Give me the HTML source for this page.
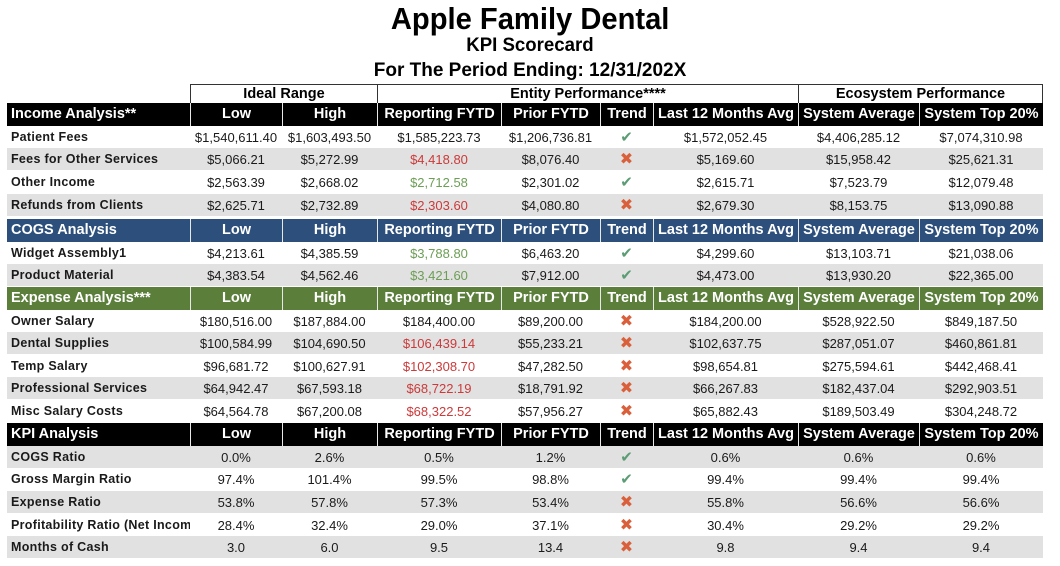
<!DOCTYPE html>
<html><head><meta charset="utf-8"><style>
*{margin:0;padding:0;box-sizing:border-box}
body{width:1060px;height:566px;background:#fff;position:relative;overflow:hidden;font-family:"Liberation Sans",Arial,sans-serif;color:#1a1a1a}
.t{position:absolute;left:0;width:1060px;text-align:center;font-weight:bold;color:#000}
.t span{display:inline-block;transform-origin:center}
.r{position:absolute;left:7px;width:1036px;display:grid;grid-template-columns:183px 92px 95px 124px 99px 53px 145px 121px 124px;align-items:center}
.r>div{text-align:center;white-space:nowrap;overflow:hidden}
.d{height:22px;font-size:13px}
.d>div:first-child{text-align:left;padding-left:4px;font-weight:bold;font-size:12.5px;letter-spacing:0.3px}
.g{background:#e1e1e1}
.h{height:23px;color:#fff;font-weight:bold;font-size:14.5px}
.h>div{height:100%;line-height:23px;border-left:1.5px solid #e8e8e8}
.h>div:first-child{text-align:left;padding-left:4px;border-left:none}
.bk{background:#000}.bl{background:#2d4f7c}.gr{background:#5b7f3b}
.red{color:#cc3a3a}.grn{color:#6d9e55}
.ck{color:#5c9c74;font-size:15px}
.x{color:#d9603b;font-size:16px}
.grp{position:absolute;top:84px;height:20px;border:1px solid #333;border-bottom:none;text-align:center;font-weight:bold;font-size:14.5px;line-height:19px;color:#000}
</style></head><body>
<div class="t" style="top:1px;font-size:31px"><span style="transform:scaleX(0.94)">Apple Family Dental</span></div>
<div class="t" style="top:35px;font-size:19px"><span style="transform:scaleX(0.98)">KPI Scorecard</span></div>
<div class="t" style="top:60px;font-size:19px"><span style="transform:scaleX(1.0)">For The Period Ending: 12/31/202X</span></div>

<div class="grp" style="left:190px;width:188px">Ideal Range</div>
<div class="grp" style="left:377px;width:422px">Entity Performance****</div>
<div class="grp" style="left:798px;width:245px">Ecosystem Performance</div>

<div class="r h bk" style="top:103px"><div>Income Analysis**</div><div>Low</div><div>High</div><div>Reporting FYTD</div><div>Prior FYTD</div><div>Trend</div><div>Last 12 Months Avg</div><div>System Average</div><div>System Top 20%</div></div>
<div class="r d" style="top:126px"><div>Patient Fees</div><div>$1,540,611.40</div><div>$1,603,493.50</div><div>$1,585,223.73</div><div>$1,206,736.81</div><div class="ck">✔</div><div>$1,572,052.45</div><div>$4,406,285.12</div><div>$7,074,310.98</div></div>
<div class="r d g" style="top:148px"><div>Fees for Other Services</div><div>$5,066.21</div><div>$5,272.99</div><div class="red">$4,418.80</div><div>$8,076.40</div><div class="x">✖</div><div>$5,169.60</div><div>$15,958.42</div><div>$25,621.31</div></div>
<div class="r d" style="top:171px"><div>Other Income</div><div>$2,563.39</div><div>$2,668.02</div><div class="grn">$2,712.58</div><div>$2,301.02</div><div class="ck">✔</div><div>$2,615.71</div><div>$7,523.79</div><div>$12,079.48</div></div>
<div class="r d g" style="top:194px"><div>Refunds from Clients</div><div>$2,625.71</div><div>$2,732.89</div><div class="red">$2,303.60</div><div>$4,080.80</div><div class="x">✖</div><div>$2,679.30</div><div>$8,153.75</div><div>$13,090.88</div></div>

<div class="r h bl" style="top:219px"><div>COGS Analysis</div><div>Low</div><div>High</div><div>Reporting FYTD</div><div>Prior FYTD</div><div>Trend</div><div>Last 12 Months Avg</div><div>System Average</div><div>System Top 20%</div></div>
<div class="r d" style="top:242px"><div>Widget Assembly1</div><div>$4,213.61</div><div>$4,385.59</div><div class="grn">$3,788.80</div><div>$6,463.20</div><div class="ck">✔</div><div>$4,299.60</div><div>$13,103.71</div><div>$21,038.06</div></div>
<div class="r d g" style="top:264px"><div>Product Material</div><div>$4,383.54</div><div>$4,562.46</div><div class="grn">$3,421.60</div><div>$7,912.00</div><div class="ck">✔</div><div>$4,473.00</div><div>$13,930.20</div><div>$22,365.00</div></div>

<div class="r h gr" style="top:287px"><div>Expense Analysis***</div><div>Low</div><div>High</div><div>Reporting FYTD</div><div>Prior FYTD</div><div>Trend</div><div>Last 12 Months Avg</div><div>System Average</div><div>System Top 20%</div></div>
<div class="r d" style="top:310px"><div>Owner Salary</div><div>$180,516.00</div><div>$187,884.00</div><div>$184,400.00</div><div>$89,200.00</div><div class="x">✖</div><div>$184,200.00</div><div>$528,922.50</div><div>$849,187.50</div></div>
<div class="r d g" style="top:332px"><div>Dental Supplies</div><div>$100,584.99</div><div>$104,690.50</div><div class="red">$106,439.14</div><div>$55,233.21</div><div class="x">✖</div><div>$102,637.75</div><div>$287,051.07</div><div>$460,861.81</div></div>
<div class="r d" style="top:355px"><div>Temp Salary</div><div>$96,681.72</div><div>$100,627.91</div><div class="red">$102,308.70</div><div>$47,282.50</div><div class="x">✖</div><div>$98,654.81</div><div>$275,594.61</div><div>$442,468.41</div></div>
<div class="r d g" style="top:377px"><div>Professional Services</div><div>$64,942.47</div><div>$67,593.18</div><div class="red">$68,722.19</div><div>$18,791.92</div><div class="x">✖</div><div>$66,267.83</div><div>$182,437.04</div><div>$292,903.51</div></div>
<div class="r d" style="top:400px"><div>Misc Salary Costs</div><div>$64,564.78</div><div>$67,200.08</div><div class="red">$68,322.52</div><div>$57,956.27</div><div class="x">✖</div><div>$65,882.43</div><div>$189,503.49</div><div>$304,248.72</div></div>

<div class="r h bk" style="top:423px"><div>KPI Analysis</div><div>Low</div><div>High</div><div>Reporting FYTD</div><div>Prior FYTD</div><div>Trend</div><div>Last 12 Months Avg</div><div>System Average</div><div>System Top 20%</div></div>
<div class="r d g" style="top:446px"><div>COGS Ratio</div><div>0.0%</div><div>2.6%</div><div>0.5%</div><div>1.2%</div><div class="ck">✔</div><div>0.6%</div><div>0.6%</div><div>0.6%</div></div>
<div class="r d" style="top:468px"><div>Gross Margin Ratio</div><div>97.4%</div><div>101.4%</div><div>99.5%</div><div>98.8%</div><div class="ck">✔</div><div>99.4%</div><div>99.4%</div><div>99.4%</div></div>
<div class="r d g" style="top:491px"><div>Expense Ratio</div><div>53.8%</div><div>57.8%</div><div>57.3%</div><div>53.4%</div><div class="x">✖</div><div>55.8%</div><div>56.6%</div><div>56.6%</div></div>
<div class="r d" style="top:514px"><div>Profitability Ratio (Net Income</div><div>28.4%</div><div>32.4%</div><div>29.0%</div><div>37.1%</div><div class="x">✖</div><div>30.4%</div><div>29.2%</div><div>29.2%</div></div>
<div class="r d g" style="top:536px"><div>Months of Cash</div><div>3.0</div><div>6.0</div><div>9.5</div><div>13.4</div><div class="x">✖</div><div>9.8</div><div>9.4</div><div>9.4</div></div>
</body></html>
